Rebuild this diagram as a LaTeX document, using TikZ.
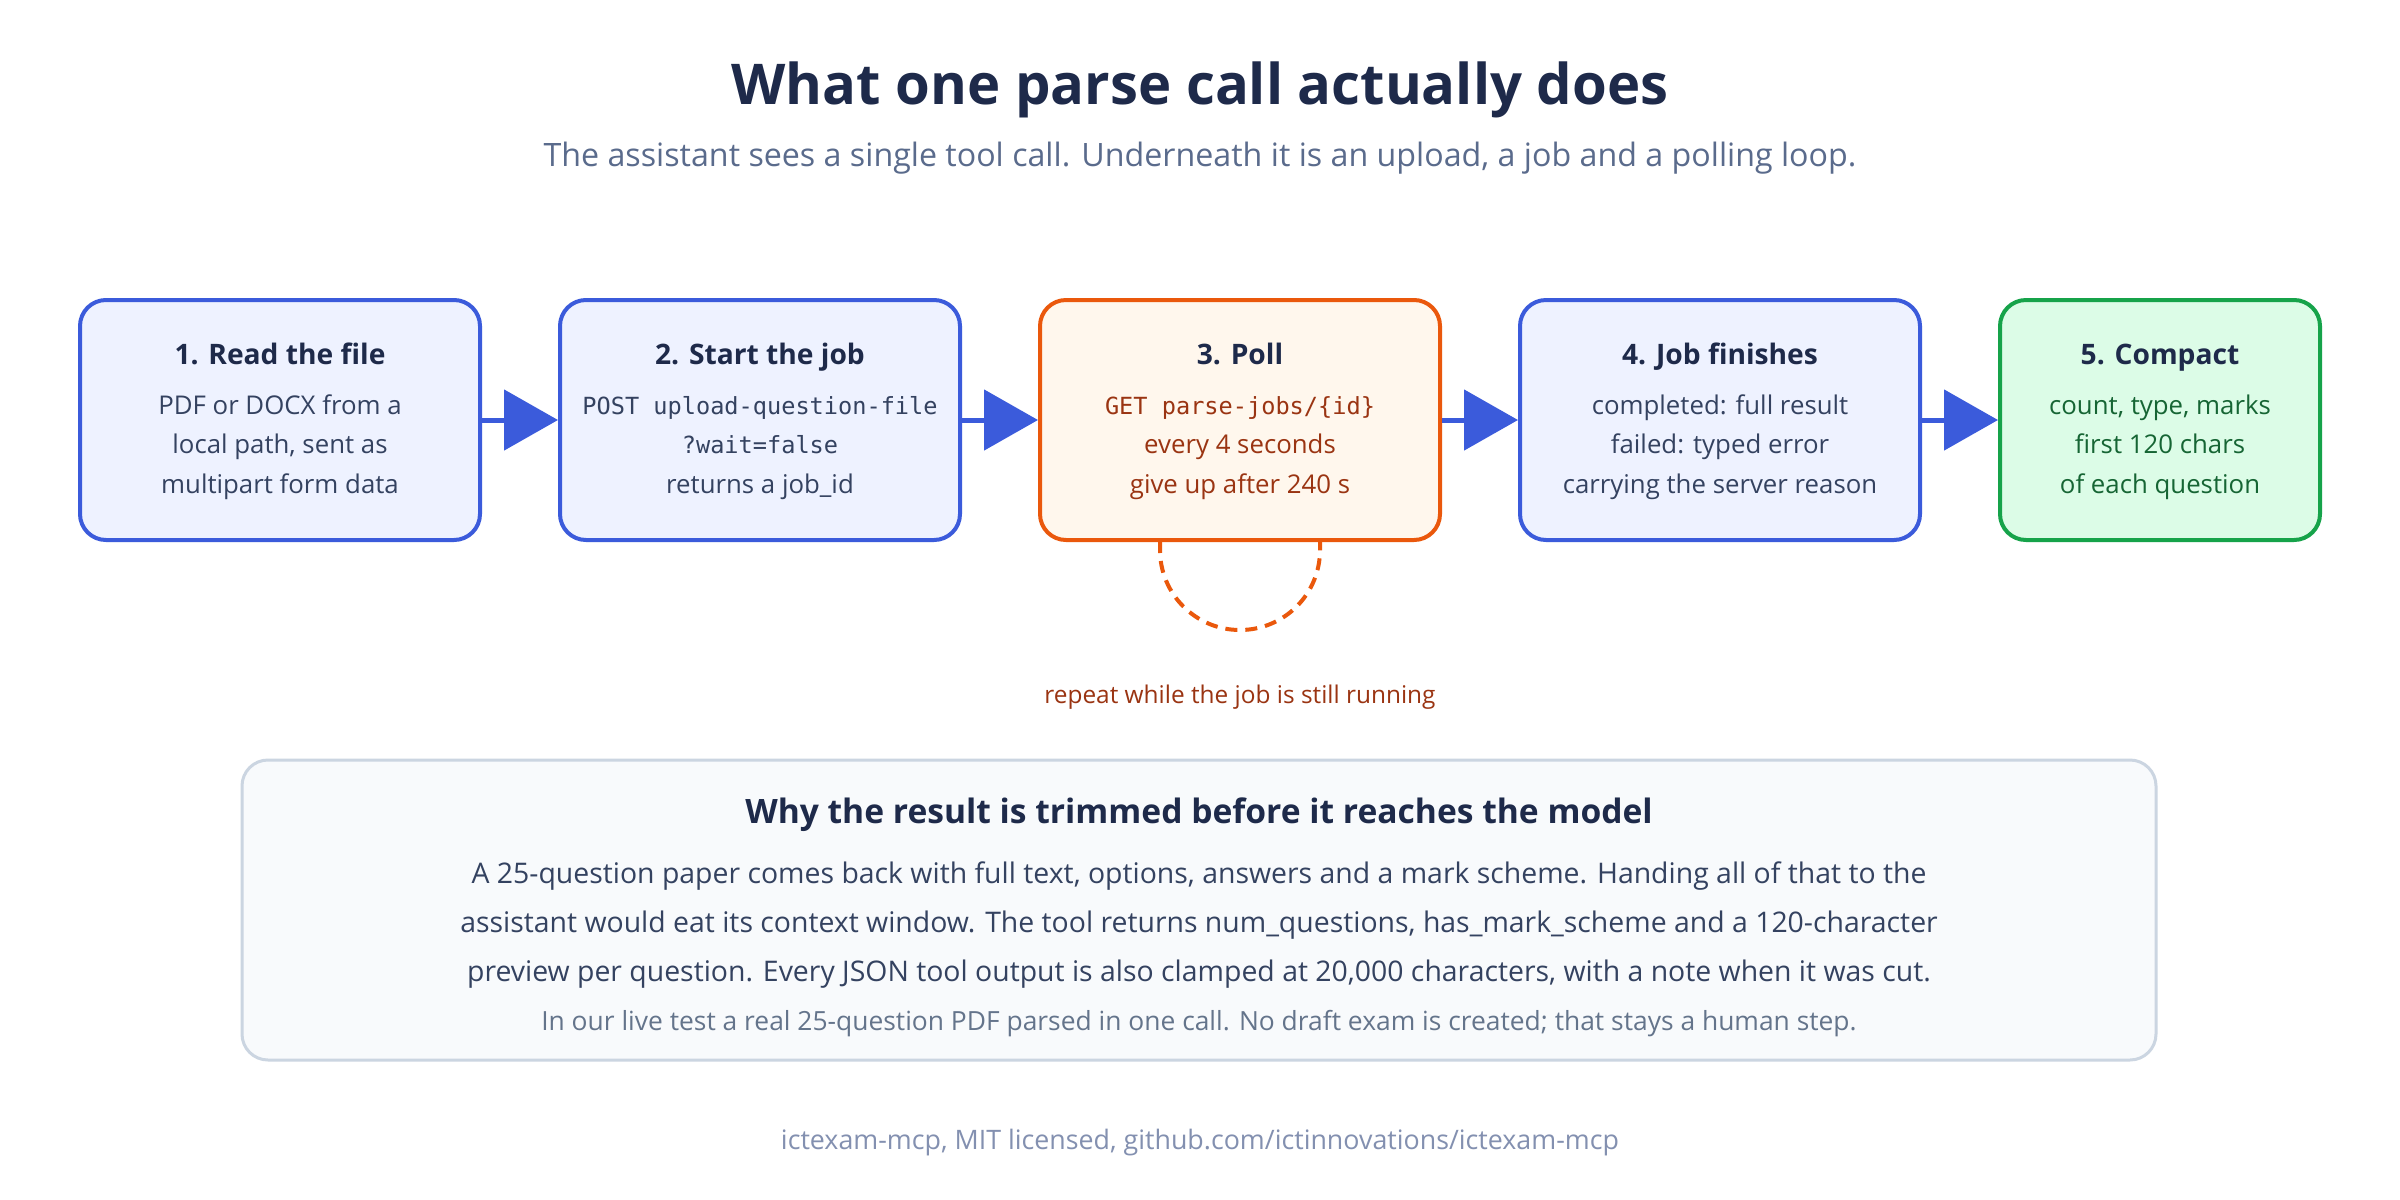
\documentclass[tikz,border=0pt]{standalone}
\usepackage{fontspec}
\setmainfont{Open Sans}
\setmonofont{DejaVu Sans Mono}
\usetikzlibrary{arrows.meta}
\definecolor{navy}{HTML}{1E2A4A}
\definecolor{subgray}{HTML}{5A6B8C}
\definecolor{boxtext}{HTML}{344260}
\definecolor{flowblue}{HTML}{3B5BDB}
\definecolor{bluefill}{HTML}{EEF2FF}
\definecolor{orange}{HTML}{EA580C}
\definecolor{orangefill}{HTML}{FFF7ED}
\definecolor{orangetext}{HTML}{9A3412}
\definecolor{green}{HTML}{16A34A}
\definecolor{greenfill}{HTML}{DCFCE7}
\definecolor{greentext}{HTML}{166534}
\definecolor{panelfill}{HTML}{F8FAFC}
\definecolor{panelline}{HTML}{CBD5E1}
\definecolor{notegray}{HTML}{64748B}
\definecolor{footgray}{HTML}{8390B0}
\tikzset{
  stepbox/.style={draw=flowblue, fill=bluefill, line width=2pt, rounded corners=13pt,
    minimum width=200pt, minimum height=120pt, inner sep=0pt},
  pollbox/.style={stepbox, draw=orange, fill=orangefill},
  donebox/.style={stepbox, draw=green, fill=greenfill, minimum width=160pt},
  boxtitle/.style={anchor=mid, font=\fontsize{14.1}{16}\selectfont\bfseries, text=navy},
  boxline/.style={anchor=mid, font=\fontsize{12.9}{15}\selectfont, text=boxtext},
  monoline/.style={anchor=mid, font=\fontsize{11.8}{14}\selectfont\ttfamily, text=boxtext},
  flow/.style={draw=flowblue, line width=2.5pt, -{Triangle[length=27pt,width=30pt]}},
}
\begin{document}
\begin{tikzpicture}[x=0.5pt,y=-0.5pt]
\useasboundingbox[fill=white] (0,0) rectangle (2400,1200);

% Title
\node[anchor=mid, font=\fontsize{28.1}{32}\selectfont\bfseries, text=navy] (title) at (1200,99) {What one parse call actually does};
\node[anchor=mid, font=\fontsize{16.1}{19}\selectfont, text=subgray] (subtitle) at (1200,161) {The assistant sees a single tool call. Underneath it is an upload, a job and a polling loop.};

% Boxes
\node[stepbox] (b1) at (280,420) {};
\node[stepbox] (b2) at (760,420) {};
\node[pollbox] (b3) at (1240,420) {};
\node[stepbox] (b4) at (1720,420) {};
\node[donebox] (b5) at (2160,420) {};

% Box texts
\node[boxtitle] (t1) at (280,359) {1. Read the file};
\node[boxline] (t1a) at (280,409) {PDF or DOCX from a};
\node[boxline] (t1b) at (280,448) {local path, sent as};
\node[boxline] (t1c) at (280,488) {multipart form data};

\node[boxtitle] (t2) at (760,359) {2. Start the job};
\node[monoline] (t2a) at (760,409) {POST upload-question-file};
\node[monoline] (t2b) at (760,448) {?wait=false};
\node[boxline] (t2c) at (760,488) {returns a job\_id};

\node[boxtitle] (t3) at (1240,359) {3. Poll};
\node[monoline, text=orangetext] (t3a) at (1240,409) {GET parse-jobs/\{id\}};
\node[boxline, text=orangetext] (t3b) at (1240,448) {every 4 seconds};
\node[boxline, text=orangetext] (t3c) at (1240,488) {give up after 240 s};

\node[boxtitle] (t4) at (1720,359) {4. Job finishes};
\node[boxline] (t4a) at (1720,409) {completed: full result};
\node[boxline] (t4b) at (1720,448) {failed: typed error};
\node[boxline] (t4c) at (1720,488) {carrying the server reason};

\node[boxtitle] (t5) at (2160,359) {5. Compact};
\node[boxline, text=greentext] (t5a) at (2160,409) {count, type, marks};
\node[boxline, text=greentext] (t5b) at (2160,448) {first 120 chars};
\node[boxline, text=greentext] (t5c) at (2160,488) {of each question};

% Flow arrows
\draw[flow] (b1.east) -- (b2.west);
\draw[flow] (b2.east) -- (b3.west);
\draw[flow] (b3.east) -- (b4.west);
\draw[flow] (b4.east) -- (b5.west);

% Poll loop
\coordinate (loopa) at (1160,541);
\coordinate (loopb) at (1320,541);
\draw[draw=orange, line width=2pt, dash pattern=on 6pt off 4pt]
  (loopa) -- (1160,550) arc[start angle=180, end angle=360, radius=40pt] -- (loopb);
\node[anchor=mid, font=\fontsize{12.2}{14}\selectfont, text=orangetext] (looplabel) at (1240,698) {repeat while the job is still running};

% Panel
\node[draw=panelline, fill=panelfill, line width=1.5pt, rounded corners=13pt,
  minimum width=957pt, minimum height=150pt, inner sep=0pt] (panel) at (1199,910) {};
\node[anchor=mid, font=\fontsize{16.8}{20}\selectfont\bfseries, text=navy] (ptitle) at (1199,818) {Why the result is trimmed before it reaches the model};
\node[anchor=mid, font=\fontsize{14.2}{17}\selectfont, text=boxtext] (pl1) at (1199,878) {A 25-question paper comes back with full text, options, answers and a mark scheme. Handing all of that to the};
\node[anchor=mid, font=\fontsize{14.2}{17}\selectfont, text=boxtext] (pl2) at (1199,927) {assistant would eat its context window. The tool returns num\_questions, has\_mark\_scheme and a 120-character};
\node[anchor=mid, font=\fontsize{14.2}{17}\selectfont, text=boxtext] (pl3) at (1199,976) {preview per question. Every JSON tool output is also clamped at 20,000 characters, with a note when it was cut.};
\node[anchor=mid, font=\fontsize{13.2}{15}\selectfont, text=notegray] (pnote) at (1199,1025) {In our live test a real 25-question PDF parsed in one call. No draft exam is created; that stays a human step.};

% Footer
\node[anchor=mid, font=\fontsize{13.4}{15}\selectfont, text=footgray] (footer) at (1200,1144) {ictexam-mcp, MIT licensed, github.com/ictinnovations/ictexam-mcp};
\end{tikzpicture}
\end{document}
